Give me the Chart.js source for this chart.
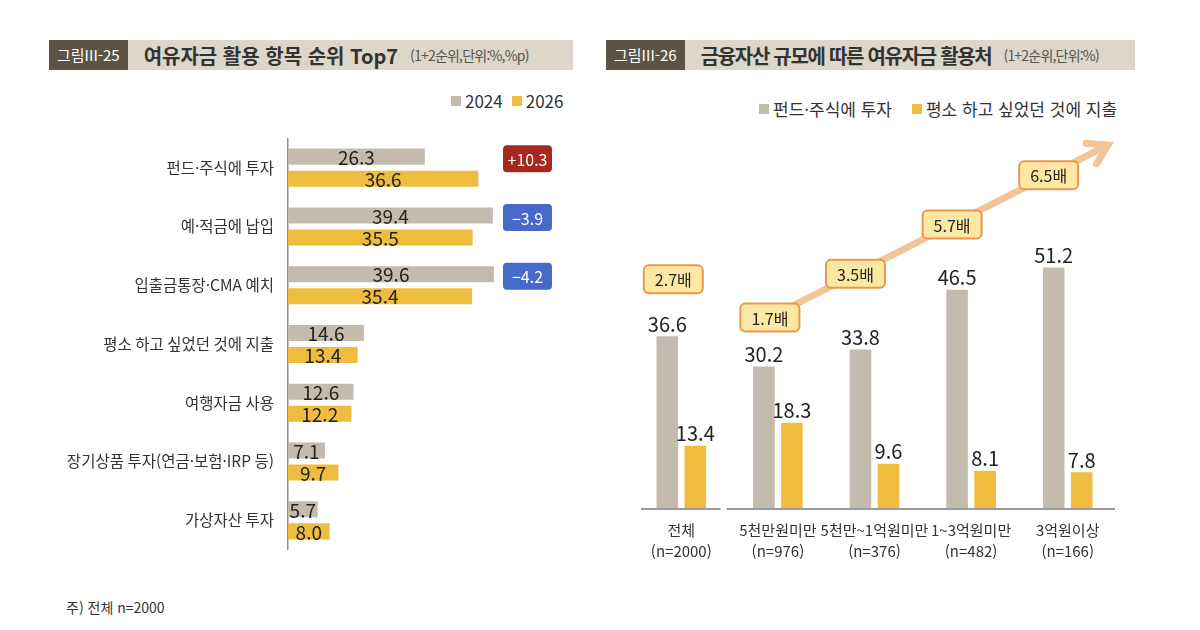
<!DOCTYPE html>
<html lang="ko">
<head>
  <meta charset="UTF-8" />
  <title>여유자금 활용</title>
  <script src="https://cdn.jsdelivr.net/npm/chart.js"></script>
  <style>
    body { margin: 0; width: 1200px; height: 630px; background: #fff; position: relative; overflow: hidden;
      font-family: 'Noto Sans CJK KR', sans-serif; color: #333; }
    .bar { position: absolute; top: 40px; height: 30px; background: #ddd6ca; display: flex; align-items: center; }
    .bar .tag { background: #5b5445; color: #fff; height: 30px; line-height: 30px; padding: 0 8px; font-size: 15px; }
    .bar .ttl { font-size: 20px; font-weight: bold; color: #333; margin-left: 16px; letter-spacing: 0; }
    .bar .sub { font-size: 14px; color: #555; margin-left: 12px; letter-spacing: -0.8px; }
    .legend { position: absolute; color: #333; display: flex; align-items: center; }
    .legend i { display: inline-block; width: 10px; height: 10px; margin: 0 4px 0 0; }
    canvas { position: absolute; }
    .note { position: absolute; left: 66px; top: 597px; font-size: 14px; color: #333; }
  </style>
</head>
<body>
  <!-- left header -->
  <div class="bar" style="left:49px; width:524px;">
    <span class="tag">그림III-25</span>
    <span class="ttl">여유자금 활용 항목 순위 Top7</span>
    <span class="sub">(1+2순위,단위:%,%p)</span>
  </div>
  <!-- right header -->
  <div class="bar" style="left:606px; width:529px;">
    <span class="tag">그림III-26</span>
    <span class="ttl" style="letter-spacing:-1.3px">금융자산 규모에 따른 여유자금 활용처</span>
    <span class="sub">(1+2순위,단위:%)</span>
  </div>

  <div class="legend" style="left:451px; top:88px; font-size:17px;">
    <i style="background:#c3bbae"></i><span style="margin-right:9px">2024</span>
    <i style="background:#eebd3f"></i><span>2026</span>
  </div>
  <div class="legend" style="left:759px; top:96px; font-size:17px;">
    <i style="background:#c3bbae"></i><span style="margin-right:20px">펀드·주식에 투자</span>
    <i style="background:#eebd3f"></i><span>평소 하고 싶었던 것에 지출</span>
  </div>

  <canvas id="rankChart" width="560" height="442" style="left:40px; top:123px;"></canvas>
  <canvas id="assetChart" width="600" height="440" style="left:600px; top:130px;"></canvas>

  <div class="note">주) 전체 n=2000</div>

  <script>
    // left chart data
    const items = ['펀드·주식에 투자', '예·적금에 납입', '입출금통장·CMA 예치', '평소 하고 싶었던 것에 지출',
      '여행자금 사용', '장기상품 투자(연금·보험·IRP 등)', '가상자산 투자'];
    const y2024 = [26.3, 39.4, 39.6, 14.6, 12.6, 7.1, 5.7];
    const y2026 = [36.6, 35.5, 35.4, 13.4, 12.2, 9.7, 8.0];
    const changes = [10.3, -3.9, -4.2];

    // right chart data
    const groups = [['전체', '(n=2000)'], ['5천만원미만', '(n=976)'], ['5천만~1억원미만', '(n=376)'],
      ['1~3억원미만', '(n=482)'], ['3억원이상', '(n=166)']];
    const fundStock = [36.6, 30.2, 33.8, 46.5, 51.2];
    const wishSpend = [13.4, 18.3, 9.6, 8.1, 7.8];
    const ratios = [2.7, 1.7, 3.5, 5.7, 6.5];

    const GRAY = '#c3bbae';
    const YELLOW = '#eebd3f';
    Chart.defaults.font.family = "'Noto Sans CJK KR', sans-serif";

    function roundRect(ctx, x, y, w, h, r) {
      ctx.beginPath();
      ctx.moveTo(x + r, y);
      ctx.arcTo(x + w, y, x + w, y + h, r);
      ctx.arcTo(x + w, y + h, x, y + h, r);
      ctx.arcTo(x, y + h, x, y, r);
      ctx.arcTo(x, y, x + w, y, r);
      ctx.closePath();
    }

    const rankLabels = {
      id: 'rankLabels',
      afterDatasetsDraw(chart) {
        const ctx = chart.ctx;
        ctx.save();
        ctx.font = "19px 'Noto Sans CJK KR'";
        ctx.fillStyle = '#222';
        ctx.textAlign = 'center';
        ctx.textBaseline = 'middle';
        chart.data.datasets.forEach((ds, di) => {
          chart.getDatasetMeta(di).data.forEach((bar, i) => {
            ctx.fillText(ds.data[i].toFixed(1), (bar.base + bar.x) / 2, bar.y + 1);
          });
        });
        // change badges
        const area = chart.chartArea;
        ctx.font = "16px 'Noto Sans CJK KR'";
        changes.forEach((c, i) => {
          const gy = chart.getDatasetMeta(0).data[i].y + 2;
          const w = 49, h = 27, x = area.right + 4 - w;
          roundRect(ctx, x, gy - h / 2, w, h, 4);
          ctx.fillStyle = c > 0 ? '#a6281f' : '#4769c9';
          ctx.fill();
          ctx.fillStyle = '#fff';
          const txt = (c > 0 ? '+' : '−') + Math.abs(c).toFixed(1);
          ctx.fillText(txt, x + w / 2, gy + 1);
        });
        ctx.restore();
      }
    };

    new Chart(document.getElementById('rankChart'), {
      type: 'bar',
      data: {
        labels: items,
        datasets: [
          { label: '2024', data: y2024, backgroundColor: GRAY, categoryPercentage: 0.75, barPercentage: 0.73 },
          { label: '2026', data: y2026, backgroundColor: YELLOW, categoryPercentage: 0.75, barPercentage: 0.73 }
        ]
      },
      options: {
        indexAxis: 'y',
        responsive: false,
        animation: false,
        layout: { padding: { top: 0, bottom: 0, left: 0, right: 52 } },
        plugins: { legend: { display: false }, tooltip: { enabled: false } },
        scales: {
          x: { display: false, min: 0, max: 50 },
          y: {
            grid: { display: false },
            border: { color: '#8c8c8c', width: 1.5 },
            ticks: { color: '#333', font: { size: 15.5 }, padding: 6 },
            afterFit(s) { s.width = 248; }
          }
        }
      },
      plugins: [rankLabels]
    });

    const assetDecor = {
      id: 'assetDecor',
      afterDatasetsDraw(chart) {
        const ctx = chart.ctx;
        const area = chart.chartArea;
        const xs = chart.scales.x;
        ctx.save();

        // baseline with gap after 전체
        const gapX = (xs.getPixelForValue(0) + xs.getPixelForValue(1)) / 2 - 6;
        ctx.strokeStyle = '#9a9a9a';
        ctx.lineWidth = 2;
        ctx.beginPath();
        ctx.moveTo(area.left + 8, area.bottom); ctx.lineTo(gapX - 3, area.bottom);
        ctx.moveTo(gapX + 3, area.bottom); ctx.lineTo(area.right - 1, area.bottom);
        ctx.stroke();

        // value labels
        ctx.font = "20px 'Noto Sans CJK KR'";
        ctx.fillStyle = '#222';
        ctx.textAlign = 'center';
        ctx.textBaseline = 'bottom';
        chart.data.datasets.forEach((ds, di) => {
          chart.getDatasetMeta(di).data.forEach((bar, i) => {
            ctx.fillText(ds.data[i].toFixed(1), bar.x, bar.y - 2);
          });
        });

        // arrow through ratio badges
        const grays = chart.getDatasetMeta(0).data;
        const x1 = grays[1].x + 5, y1 = area.top + 92;
        const tipX = area.right - 8, tipY = area.top - 81;
        const slope = (tipY - y1) / (tipX - x1);
        ctx.strokeStyle = '#f2c497';
        ctx.lineWidth = 7;
        ctx.lineCap = 'round';
        ctx.beginPath();
        ctx.moveTo(x1, y1); ctx.lineTo(tipX, tipY);
        const ang = Math.atan2(tipY - y1, tipX - x1);
        ctx.moveTo(tipX - 22 * Math.cos(ang - 0.55), tipY - 22 * Math.sin(ang - 0.55));
        ctx.lineTo(tipX, tipY);
        ctx.lineTo(tipX - 22 * Math.cos(ang + 0.55), tipY - 22 * Math.sin(ang + 0.55));
        ctx.stroke();

        // ratio badges
        ctx.font = "16px 'Noto Sans CJK KR'";
        ctx.textBaseline = 'middle';
        ratios.forEach((r, i) => {
          const bx = grays[i].x + (i < 2 ? 6 : -5);
          const by = i === 0 ? grays[0].y - 57 : y1 + (bx - x1) * slope;
          const w = 59, h = 28;
          roundRect(ctx, bx - w / 2, by - h / 2, w, h, 5);
          ctx.fillStyle = '#fde8a3';
          ctx.fill();
          ctx.lineWidth = 2;
          ctx.strokeStyle = '#e8974c';
          ctx.stroke();
          ctx.fillStyle = '#222';
          ctx.fillText(r.toFixed(1) + '배', bx, by + 1);
        });
        ctx.restore();
      }
    };

    new Chart(document.getElementById('assetChart'), {
      type: 'bar',
      data: {
        labels: groups,
        datasets: [
          { label: '펀드·주식에 투자', data: fundStock, backgroundColor: GRAY, categoryPercentage: 0.58, barPercentage: 0.77 },
          { label: '평소 하고 싶었던 것에 지출', data: wishSpend, backgroundColor: YELLOW, categoryPercentage: 0.58, barPercentage: 0.77 }
        ]
      },
      options: {
        responsive: false,
        animation: false,
        layout: { padding: { top: 96, bottom: 1, left: 33, right: 84 } },
        plugins: { legend: { display: false }, tooltip: { enabled: false } },
        scales: {
          y: { display: false, min: 0, max: 60 },
          x: {
            grid: { display: false },
            border: { display: false },
            ticks: { color: '#333', font: { size: 15, lineHeight: 1.4 }, padding: 3, maxRotation: 0, autoSkip: false },
            afterFit(s) { s.height = 60; }
          }
        }
      },
      plugins: [assetDecor]
    });
  </script>
</body>
</html>
